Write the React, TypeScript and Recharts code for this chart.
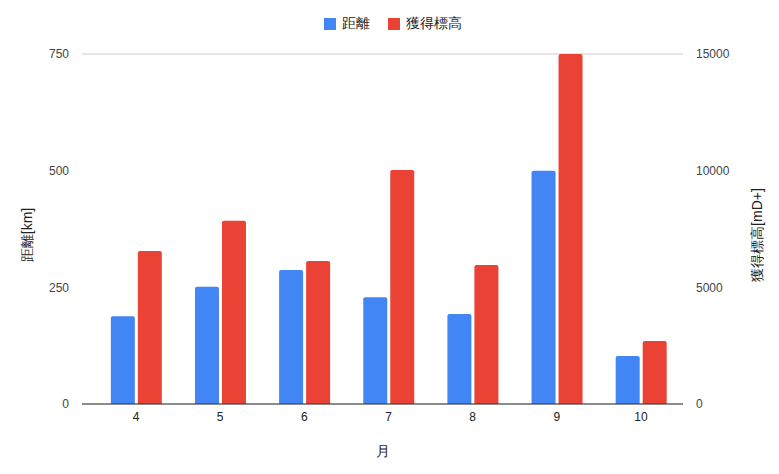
import React from "react";
import {
  BarChart,
  Bar,
  XAxis,
  YAxis,
  CartesianGrid,
  Legend,
} from "recharts";

const months = ["4", "5", "6", "7", "8", "9", "10"];
const distanceKm = [188, 251, 287, 229, 193, 500, 103];
const elevationGain = [6560, 7850, 6130, 10030, 5960, 15000, 2700];
const leftTicks = [0, 250, 500, 750];
const rightTicks = [0, 5000, 10000, 15000];
const seriesOrder = ["distance", "elevation"];

const data = months.map((m, i) => ({
  month: m,
  distance: distanceKm[i],
  elevation: elevationGain[i],
}));

const FONT = "'Liberation Sans', Arial, sans-serif";

// rotated axis title, centred a little below the middle like Sheets does
const sideTitle = (text: string, side: "left" | "right") => (props: any) => {
  const { x, y, width, height } = props.viewBox;
  const cx = side === "left" ? x + 27 : x + width - 22;
  const cy = y + height / 2 + 6;
  return (
    <text
      x={cx}
      y={cy}
      transform={`rotate(-90, ${cx}, ${cy})`}
      textAnchor="middle"
      dominantBaseline="central"
      fill="#222222"
      fontSize={14}
      fontFamily={FONT}
    >
      {text}
    </text>
  );
};

const App = () => {
  return (
    <div style={{ position: "absolute", left: 0, top: 0, fontFamily: FONT }}>
      <BarChart
        width={779}
        height={474}
        data={data}
        margin={{ top: 54, right: 0, left: 0, bottom: 0 }}
        barCategoryGap="20%"
        barGap={3}
      >
        <CartesianGrid vertical={false} stroke="#cccccc" />
        <XAxis
          dataKey="month"
          height={70}
          padding={{ left: 12, right: 0 }}
          tickLine={false}
          stroke="#333333"
          tick={{ fill: "#222222", fontSize: 12, fontFamily: FONT }}
          label={{
            value: "月",
            position: "insideBottom",
            offset: 18,
            fill: "#222222",
            fontSize: 14,
            fontFamily: FONT,
          }}
        />
        <YAxis
          yAxisId="left"
          width={82}
          domain={[0, 750]}
          ticks={leftTicks}
          axisLine={false}
          tickLine={false}
          tickMargin={7}
          tick={{ fill: "#444444", fontSize: 12, fontFamily: FONT }}
          label={{ content: sideTitle("距離[km]", "left") }}
        />
        <YAxis
          yAxisId="right"
          orientation="right"
          width={96}
          domain={[0, 15000]}
          ticks={rightTicks}
          axisLine={false}
          tickLine={false}
          tickMargin={7}
          tick={{ fill: "#444444", fontSize: 12, fontFamily: FONT }}
          label={{ content: sideTitle("獲得標高[mD+]", "right") }}
        />
        <Legend
          verticalAlign="middle"
          align="center"
          iconType="square"
          iconSize={12}
          itemSorter={(item: any) => seriesOrder.indexOf(item.dataKey)}
          wrapperStyle={{ top: 15, left: 12, fontSize: 14, fontFamily: FONT }}
          formatter={(value) => (
            <span style={{ color: "#222222", marginLeft: 2, marginRight: 8 }}>
              {value}
            </span>
          )}
        />
        <Bar
          yAxisId="left"
          dataKey="distance"
          name="距離"
          fill="#4285F4"
          radius={[2, 2, 0, 0]}
          isAnimationActive={false}
        />
        <Bar
          yAxisId="right"
          dataKey="elevation"
          name="獲得標高"
          fill="#EA4335"
          radius={[2, 2, 0, 0]}
          isAnimationActive={false}
        />
      </BarChart>
    </div>
  );
};

export default App;
